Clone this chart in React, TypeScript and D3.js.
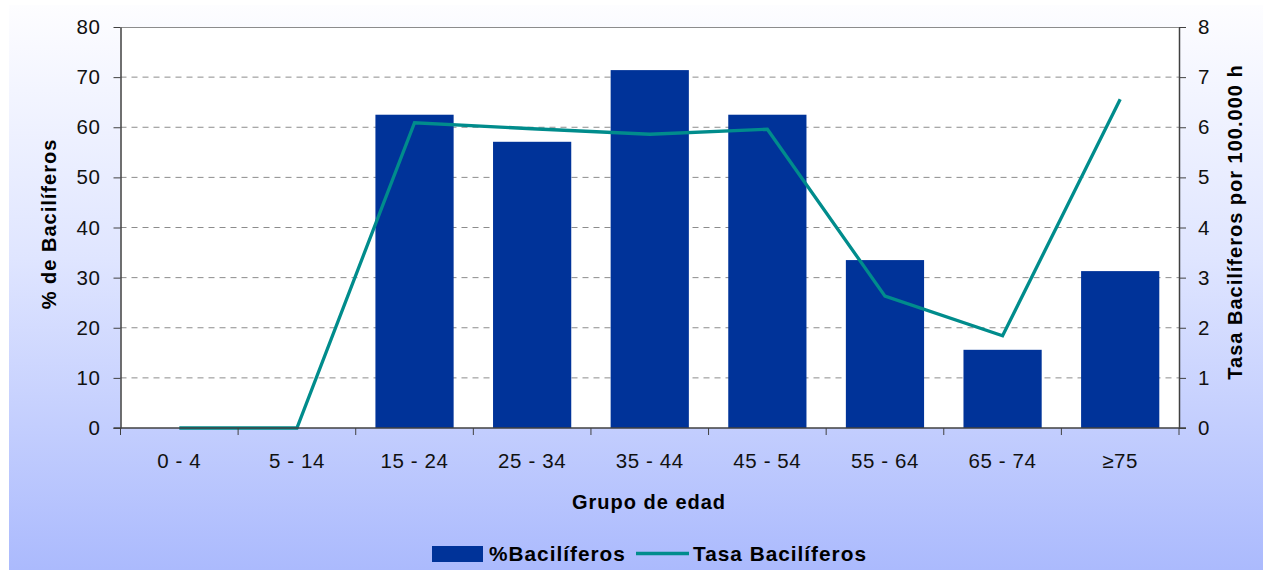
import React, { useEffect, useRef } from "react";
import * as d3 from "d3";

const categories = ["0 - 4", "5 - 14", "15 - 24", "25 - 34", "35 - 44", "45 - 54", "55 - 64", "65 - 74", "≥75"];
const pctBaciliferos = [0, 0, 62.5, 57.1, 71.4, 62.5, 33.5, 15.6, 31.3];
const tasaBaciliferos = [0, 0, 6.09, 5.97, 5.86, 5.96, 2.63, 1.84, 6.56];
const leftTicks = [0, 10, 20, 30, 40, 50, 60, 70, 80];
const rightTicks = [0, 1, 2, 3, 4, 5, 6, 7, 8];

const W = 1263;
const H = 570;
const plot = { left: 120.5, right: 1179, top: 27, bottom: 428 };
const FONT = "'Liberation Sans', Arial, sans-serif";
const BAR_COLOR = "#003399";
const LINE_COLOR = "#008C8C";

export default function App() {
  const ref = useRef<SVGSVGElement>(null);

  useEffect(() => {
    const svg = d3.select(ref.current);
    svg.selectAll("*").remove();

    const defs = svg.append("defs");
    const grad = defs
      .append("linearGradient")
      .attr("id", "bg")
      .attr("x1", 0)
      .attr("y1", 0)
      .attr("x2", 0)
      .attr("y2", 1);
    grad.append("stop").attr("offset", "0%").attr("stop-color", "#fdfdff");
    grad.append("stop").attr("offset", "45%").attr("stop-color", "#dfe5ff");
    grad.append("stop").attr("offset", "100%").attr("stop-color", "#abbafd");

    svg.append("rect").attr("width", W).attr("height", H).attr("fill", "#ffffff");
    svg.append("rect").attr("x", 9).attr("y", 5).attr("width", W - 9).attr("height", H - 5).attr("fill", "url(#bg)");

    const x = d3.scaleBand().domain(categories).range([plot.left, plot.right]).paddingInner(0.335).paddingOuter(0.1675);
    const xc = (c: string) => (x(c) as number) + x.bandwidth() / 2;
    const yL = d3.scaleLinear().domain([0, 80]).range([plot.bottom, plot.top]);
    const yR = d3.scaleLinear().domain([0, 8]).range([plot.bottom, plot.top]);

    // plot area
    svg
      .append("rect")
      .attr("x", plot.left)
      .attr("y", plot.top)
      .attr("width", plot.right - plot.left)
      .attr("height", plot.bottom - plot.top)
      .attr("fill", "#ffffff");

    // gridlines
    const g = svg.append("g");
    g.selectAll("line.grid")
      .data(leftTicks.filter((t) => t > 0 && t < 80))
      .join("line")
      .attr("x1", plot.left)
      .attr("x2", plot.right)
      .attr("y1", (d) => yL(d))
      .attr("y2", (d) => yL(d))
      .attr("stroke", "#8c8c8c")
      .attr("stroke-width", 1)
      .attr("stroke-dasharray", "6,5");
    g.append("line")
      .attr("x1", plot.left)
      .attr("x2", plot.right)
      .attr("y1", plot.top + 0.5)
      .attr("y2", plot.top + 0.5)
      .attr("stroke", "#8c8c8c");

    // bars
    svg
      .append("g")
      .selectAll("rect")
      .data(categories.map((c, i) => ({ c, v: pctBaciliferos[i] })))
      .join("rect")
      .attr("x", (d) => x(d.c) as number)
      .attr("width", x.bandwidth())
      .attr("y", (d) => yL(d.v))
      .attr("height", (d) => plot.bottom - yL(d.v))
      .attr("fill", BAR_COLOR);

    // line
    const line = d3
      .line<number>()
      .x((_, i) => xc(categories[i]))
      .y((d) => yR(d));
    svg
      .append("path")
      .attr("d", line(tasaBaciliferos))
      .attr("fill", "none")
      .attr("stroke", LINE_COLOR)
      .attr("stroke-width", 3.3);

    // axes
    const axisColor = "#404040";
    const tickFont = (sel: any) =>
      sel.attr("font-family", FONT).attr("font-size", 20.5).attr("letter-spacing", 0.6).attr("fill", "#111");
    const axL = d3.axisLeft(yL).tickValues(leftTicks).tickSize(7).tickPadding(13).tickSizeOuter(0);
    const gL = svg.append("g").attr("transform", `translate(${plot.left},0)`).call(axL);
    const axR = d3.axisRight(yR).tickValues(rightTicks).tickSize(7).tickPadding(12).tickSizeOuter(0);
    const gR = svg.append("g").attr("transform", `translate(${plot.right},0)`).call(axR);
    const bandEdges = categories.map((_, i) => plot.left + (i * (plot.right - plot.left)) / categories.length);
    bandEdges.push(plot.right);
    const gB = svg.append("g").attr("transform", `translate(0,${plot.bottom})`);
    gB.append("line").attr("x1", plot.left - 7).attr("x2", plot.right + 7).attr("stroke", axisColor).attr("stroke-width", 1.5);
    gB.selectAll("line.tk")
      .data(bandEdges)
      .join("line")
      .attr("x1", (d) => d)
      .attr("x2", (d) => d)
      .attr("y1", 0)
      .attr("y2", 7)
      .attr("stroke", axisColor);
    gB.selectAll("text")
      .data(categories)
      .join("text")
      .attr("x", (d) => xc(d))
      .attr("y", 40)
      .attr("text-anchor", "middle")
      .call(tickFont)
      .text((d) => d);

    [gL, gR].forEach((ga) => {
      ga.select(".domain").attr("stroke", axisColor).attr("stroke-width", 1.5);
      ga.selectAll(".tick line").attr("stroke", axisColor);
      ga.selectAll(".tick text").call(tickFont);
    });

    const titleFont = (sel: any, size = 20) =>
      sel
        .attr("font-family", FONT)
        .attr("font-weight", "bold")
        .attr("font-size", size)
        .attr("letter-spacing", 1)
        .attr("fill", "#000");

    // axis titles
    svg
      .append("text")
      .attr("transform", `translate(56,224) rotate(-90)`)
      .attr("text-anchor", "middle")
      .call(titleFont)
      .text("% de Bacilíferos");
    svg
      .append("text")
      .attr("transform", `translate(1242,222) rotate(-90)`)
      .attr("text-anchor", "middle")
      .call(titleFont)
      .text("Tasa Bacilíferos por 100.000 h");
    svg
      .append("text")
      .attr("x", 649)
      .attr("y", 509)
      .attr("text-anchor", "middle")
      .call(titleFont)
      .text("Grupo de edad");

    // legend
    const lg = svg.append("g");
    lg.append("rect").attr("x", 432).attr("y", 546).attr("width", 51).attr("height", 16).attr("fill", BAR_COLOR);
    lg.append("text").attr("x", 489).attr("y", 561).call(titleFont, 20.8).text("%Bacilíferos");
    lg.append("line")
      .attr("x1", 636)
      .attr("x2", 689)
      .attr("y1", 553.5)
      .attr("y2", 553.5)
      .attr("stroke", LINE_COLOR)
      .attr("stroke-width", 3.3);
    lg.append("text").attr("x", 693).attr("y", 561).call(titleFont, 20.8).text("Tasa Bacilíferos");
  }, []);

  return (
    <div style={{ position: "absolute", left: 0, top: 0 }}>
      <svg ref={ref} width={W} height={H} style={{ display: "block" }} />
    </div>
  );
}
